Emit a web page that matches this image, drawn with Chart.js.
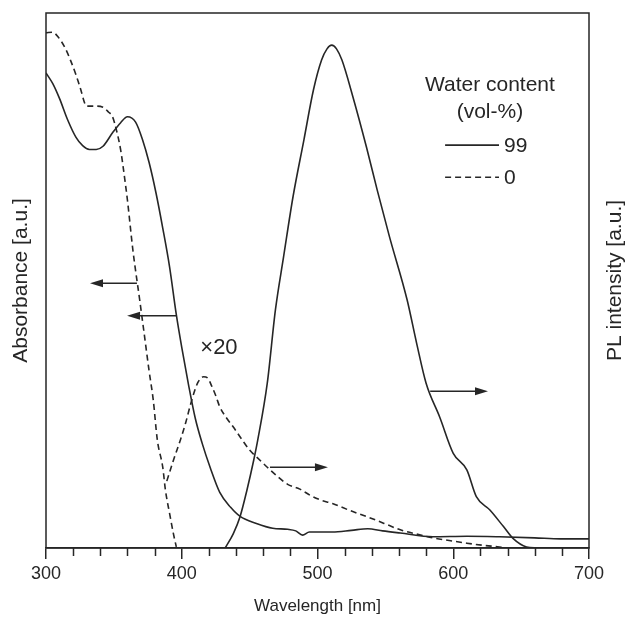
<!DOCTYPE html>
<html>
<head>
<meta charset="utf-8">
<script src="https://cdn.jsdelivr.net/npm/chart.js@4.4.0/dist/chart.umd.min.js"></script>
<style>
  html, body { margin: 0; padding: 0; background: #fff; }
</style>
</head>
<body>
<canvas id="spectraChart" width="631" height="617"></canvas>
<script>
// Absorbance, 99 vol-% water (solid)
const absWaterWl = [300, 305, 310, 316, 322, 327, 332, 337, 342, 349, 355, 360, 366, 371, 376, 381, 386, 391, 396, 400, 405, 410, 415, 421, 428, 436, 443, 455, 467, 478, 484, 489, 494, 500, 511, 525, 537, 548, 561, 585, 610, 634, 660, 679, 700];
const absWater = [88.8, 86.8, 84, 80, 76.8, 75.2, 74.5, 74.5, 75.1, 77.6, 79.5, 80.6, 79.6, 76.4, 72.0, 66.4, 59.8, 52.6, 43.6, 37.5, 30.5, 24.2, 19.6, 15.0, 10.4, 7.6, 5.9, 4.6, 3.7, 3.5, 3.2, 2.4, 3.0, 3.0, 3.0, 3.3, 3.6, 3.2, 2.8, 2.1, 2.2, 2.1, 1.9, 1.7, 1.7];

// Absorbance, 0 vol-% water (dashed)
const absThfWl = [300, 305, 309, 314, 318, 322, 325, 330, 336, 342, 346, 349, 352, 355, 358, 360, 364, 369, 372, 376, 379, 382, 386, 388, 391, 394, 396];
const absThf = [96.3, 96.4, 95.5, 93.5, 91.2, 88.5, 86.2, 82.6, 82.6, 82.4, 81.5, 80.6, 78, 74.4, 69, 65, 55.7, 46.4, 40.7, 33, 27.7, 20.2, 15.1, 10.8, 6.5, 2.5, 0.2];

// PL, 99 vol-% water (solid)
const plWaterWl = [432, 438, 443, 448, 453, 456, 463, 469, 475, 482, 490, 497, 503, 507, 510.5, 514, 518, 526, 536, 544, 553, 566, 573, 580, 590, 600, 610, 617, 627, 637, 644, 654, 662];
const plWater = [0, 2.7, 5.9, 10.8, 16.4, 20.2, 30.8, 44.5, 54.4, 65.7, 76.3, 85.6, 91.2, 93.3, 94.0, 93.3, 91.2, 84.4, 75.0, 66.9, 58.2, 46.4, 38.3, 30.8, 24.5, 17.7, 14.6, 9.6, 7.1, 4.0, 1.8, 0.2, 0];

// PL, 0 vol-% water, x20 (dashed)
const plThfWl = [389, 394, 399, 403, 406, 409, 412, 416, 419, 422, 425, 428, 433, 438, 444, 450, 456, 463, 470, 478, 487, 495, 502, 511, 524, 537, 549, 561, 573, 585, 597, 610, 622, 634, 640];
const plThf = [12.5, 16.5, 20.2, 23.5, 26.4, 29, 31, 32, 31.8, 30.3, 28.5, 26.4, 24.3, 22.6, 20.4, 18.3, 16.8, 15.1, 13.5, 11.9, 11.0, 9.8, 9.0, 8.3, 7.0, 5.8, 4.6, 3.4, 2.6, 1.9, 1.4, 0.9, 0.5, 0.2, 0];

const xTickLabels = [300, 400, 500, 600, 700];
const legendLabels = ['99', '0'];

// arrows, in data units [wavelength, value]
const arrowFrom = [[367, 49.5], [396.5, 43.4], [465, 15.1], [583, 29.3]];
const arrowTo = [[332.4, 49.5], [359.7, 43.4], [507.7, 15.1], [625.6, 29.3]];

const FONT = '"Liberation Sans", Arial, Helvetica, sans-serif';
const INK = '#262626';

function toPoints(xs, ys) {
    return xs.map((x, i) => ({ x: x, y: ys[i] }));
}

function lineSet(label, xs, ys, dashed, axis) {
    return {
        label: label,
        data: toPoints(xs, ys),
        yAxisID: axis,
        borderColor: INK,
        borderWidth: 1.6,
        borderDash: dashed ? [6, 4] : [],
        pointRadius: 0,
        fill: false,
        cubicInterpolationMode: 'monotone'
    };
}

const decorations = {
    id: 'decorations',
    afterDraw(chart) {
        const ctx = chart.ctx;
        const area = chart.chartArea;
        const xs = chart.scales.x;
        const ys = chart.scales.y;
        ctx.save();

        // frame
        ctx.strokeStyle = INK;
        ctx.lineWidth = 1.5;
        ctx.strokeRect(area.left, area.top, area.right - area.left, area.bottom - area.top);

        // minor ticks every 20 nm
        ctx.beginPath();
        for (let v = 320; v < 700; v += 20) {
            if (v % 100 === 0) continue;
            const px = Math.round(xs.getPixelForValue(v)) + 0.5;
            ctx.moveTo(px, area.bottom);
            ctx.lineTo(px, area.bottom + 8);
        }
        ctx.stroke();

        // arrows
        ctx.fillStyle = INK;
        for (let i = 0; i < arrowFrom.length; i++) {
            const x1 = xs.getPixelForValue(arrowFrom[i][0]);
            const y1 = ys.getPixelForValue(arrowFrom[i][1]);
            const x2 = xs.getPixelForValue(arrowTo[i][0]);
            const y2 = ys.getPixelForValue(arrowTo[i][1]);
            const dir = x2 > x1 ? 1 : -1;
            ctx.beginPath();
            ctx.moveTo(x1, y1);
            ctx.lineTo(x2 - dir * 10, y2);
            ctx.stroke();
            ctx.beginPath();
            ctx.moveTo(x2, y2);
            ctx.lineTo(x2 - dir * 13, y2 - 4);
            ctx.lineTo(x2 - dir * 13, y2 + 4);
            ctx.closePath();
            ctx.fill();
        }

        // x20 label
        ctx.font = '22px ' + FONT;
        ctx.textAlign = 'center';
        ctx.textBaseline = 'middle';
        ctx.fillText('\u00d720', xs.getPixelForValue(427.4), ys.getPixelForValue(37.4));

        // legend
        ctx.font = '21px ' + FONT;
        const lgX = xs.getPixelForValue(627);
        ctx.fillText('Water content', lgX, ys.getPixelForValue(86.5));
        ctx.fillText('(vol-%)', lgX, ys.getPixelForValue(81.5));
        const lineL = xs.getPixelForValue(594);
        const lineR = xs.getPixelForValue(633.7);
        const rowY = [ys.getPixelForValue(75.3), ys.getPixelForValue(69.3)];
        ctx.textAlign = 'left';
        legendLabels.forEach((lab, i) => {
            ctx.beginPath();
            ctx.setLineDash(i === 1 ? [6, 4] : []);
            ctx.lineWidth = 1.6;
            ctx.moveTo(lineL, rowY[i]);
            ctx.lineTo(lineR, rowY[i]);
            ctx.stroke();
            ctx.setLineDash([]);
            ctx.fillText(lab, lineR + 5, rowY[i] + 1);
        });

        // y axis titles
        const midY = (area.top + area.bottom) / 2;
        ctx.font = '21px ' + FONT;
        ctx.textAlign = 'center';
        ctx.save();
        ctx.translate(21, midY);
        ctx.rotate(-Math.PI / 2);
        ctx.fillText('Absorbance [a.u.]', 0, 0);
        ctx.restore();
        ctx.save();
        ctx.translate(615, midY);
        ctx.rotate(-Math.PI / 2);
        ctx.fillText('PL intensity [a.u.]', 0, 0);
        ctx.restore();

        ctx.restore();
    }
};

new Chart(document.getElementById('spectraChart').getContext('2d'), {
    type: 'line',
    data: {
        datasets: [
            lineSet('Absorbance 99', absWaterWl, absWater, false, 'y'),
            lineSet('Absorbance 0', absThfWl, absThf, true, 'y'),
            lineSet('PL 99', plWaterWl, plWater, false, 'y2'),
            lineSet('PL 0 (x20)', plThfWl, plThf, true, 'y2')
        ]
    },
    options: {
        responsive: false,
        animation: false,
        layout: { padding: { left: 46, right: 42, top: 13, bottom: 0 } },
        plugins: { legend: { display: false }, tooltip: { enabled: false } },
        scales: {
            x: {
                type: 'linear',
                min: 300,
                max: 700,
                afterBuildTicks: (scale) => { scale.ticks = xTickLabels.map(v => ({ value: v })); },
                ticks: { color: INK, font: { family: FONT, size: 18 }, padding: 4, maxRotation: 0 },
                grid: { drawOnChartArea: false, tickLength: 11, color: INK, lineWidth: 1.5 },
                border: { display: true, color: INK, width: 1.5 },
                title: {
                    display: true,
                    text: 'Wavelength [nm]',
                    color: INK,
                    font: { family: FONT, size: 17 },
                    padding: { top: 8, bottom: 0 }
                }
            },
            y: { display: false, min: 0, max: 100 },
            y2: { display: false, min: 0, max: 100 }
        }
    },
    plugins: [decorations]
});
</script>
</body>
</html>
